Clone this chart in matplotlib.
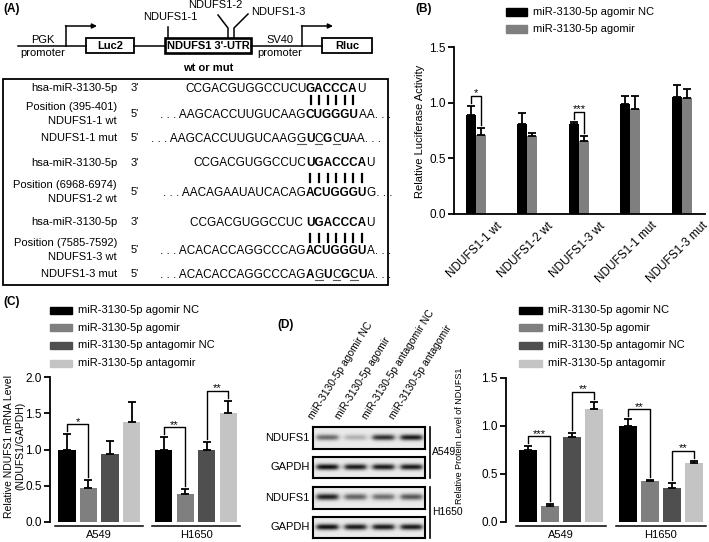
import numpy as np
import matplotlib
matplotlib.use("Agg")
import matplotlib.pyplot as plt
from matplotlib.patches import Rectangle
from matplotlib.transforms import ScaledTranslation, blended_transform_factory
from matplotlib import font_manager
from matplotlib.ft2font import FT2Font

plt.rcParams['font.family'] = ['Liberation Sans', 'DejaVu Sans']

W, H = 709, 542

# ---------------- data ----------------
luc_groups = ["NDUFS1-1 wt", "NDUFS1-2 wt", "NDUFS1-3 wt", "NDUFS1-1 mut", "NDUFS1-3 mut"]
luc_series = ["miR-3130-5p agomir NC", "miR-3130-5p agomir"]
luc_nc = [0.89, 0.81, 0.81, 0.99, 1.05]
luc_nc_err = [0.08, 0.10, 0.02, 0.07, 0.11]
luc_ago = [0.71, 0.70, 0.66, 0.94, 1.04]
luc_ago_err = [0.06, 0.03, 0.04, 0.12, 0.08]
luc_sig = [(0, "*"), (2, "***")]

cells = ["A549", "H1650"]
treatments = ["miR-3130-5p agomir NC", "miR-3130-5p agomir",
              "miR-3130-5p antagomir NC", "miR-3130-5p antagomir"]
colors4 = ["#000000", "#7f7f7f", "#4f4f4f", "#c4c4c4"]

mrna = [[1.00, 0.47, 0.94, 1.38], [1.00, 0.38, 1.00, 1.50]]
mrna_err = [[0.21, 0.11, 0.18, 0.28], [0.17, 0.08, 0.10, 0.17]]
mrna_sig = [(0, 0, 1, "*"), (1, 0, 1, "**"), (1, 2, 3, "**")]

protein = [[0.75, 0.17, 0.89, 1.18], [1.00, 0.43, 0.35, 0.61]]
protein_err = [[0.04, 0.015, 0.035, 0.07], [0.07, 0.01, 0.06, 0.03]]
protein_sig = [(0, 0, 1, "***"), (0, 2, 3, "**"), (1, 0, 1, "**"), (1, 2, 3, "**")]

blot_rows = ["NDUFS1", "GAPDH", "NDUFS1", "GAPDH"]
blot_bands = [[0.55, 0.25, 0.80, 0.90],
              [0.95, 0.90, 0.90, 0.90],
              [0.90, 0.60, 0.55, 0.65],
              [0.95, 0.90, 0.90, 0.90]]

# sequence rows: (left label lines, end, parts); parts = (text, style)
seq_rows = [
    (["hsa-miR-3130-5p"], "3'", [("CCGACGUGGCCUCU", ""), ("GACCCA", "b"), ("U", "")]),
    (["Position (395-401)", "NDUFS1-1 wt"], "5'",
     [(". . . AAGCACCUUGUCAAG", ""), ("CUGGGU", "b"), ("AA. . .", "")]),
    (["NDUFS1-1 mut"], "5'",
     [(". . . AAGCACCUUGUCAAG", ""), ("G", "u"), ("U", "b"), ("C", "u"), ("G", "b"),
      ("C", "u"), ("U", "b"), ("AA. . .", "")]),
    (["hsa-miR-3130-5p"], "3'", [("CCGACGUGGCCUC", ""), ("UGACCCA", "b"), ("U", "")]),
    (["Position (6968-6974)", "NDUFS1-2 wt"], "5'",
     [(". . . AACAGAAUAUCACAG", ""), ("ACUGGGU", "b"), ("G. . .", "")]),
    (["hsa-miR-3130-5p"], "3'", [("CCGACGUGGCCUC ", ""), ("UGACCCA", "b"), ("U", "")]),
    (["Position (7585-7592)", "NDUFS1-3 wt"], "5'",
     [(". . . ACACACCAGGCCCAG", ""), ("ACUGGGU", "b"), ("A. . .", "")]),
    (["NDUFS1-3 mut"], "5'",
     [(". . . ACACACCAGGCCCAG", ""), ("A", "b"), ("G", "u"), ("U", "b"), ("C", "u"),
      ("G", "b"), ("C", "u"), ("U", "b"), ("A. . .", "")]),
]
seq_y = [88, 114, 138, 163, 192, 222, 250, 274]
mir_rows = [0, 3, 5]
bar_y = [100, 178, 238]

SEQ_FS = 8.5


def _font(weight):
    path = font_manager.findfont(font_manager.FontProperties(family='Liberation Sans', weight=weight))
    f = FT2Font(path)
    f.set_size(SEQ_FS, 100)
    return f


FONTS = {False: _font('normal'), True: _font('bold')}


def adv(s, bold):
    f = FONTS[bold]
    return sum(f.load_char(ord(c)).linearHoriAdvance / 65536 for c in s)


def rect(l, t, r, b):
    return [l / W, 1 - b / H, (r - l) / W, (b - t) / H]


fig = plt.figure(figsize=(W / 100, H / 100), dpi=100)
ax0 = fig.add_axes([0, 0, 1, 1])
ax0.set_xlim(0, W)
ax0.set_ylim(H, 0)
ax0.axis('off')

# ---------------- (A) construct ----------------
ax0.text(3, 9, "(A)", fontsize=8.5, fontweight='bold', va='center')
lk = dict(color='k', lw=1.1)
ax0.plot([18, 86], [46, 46], **lk)
ax0.plot([134, 165], [46, 46], **lk)
ax0.plot([251, 322], [46, 46], **lk)
for x0, x1 in [(66, 97), (302, 333)]:
    ax0.plot([x0, x0], [46, 26], **lk)
    ax0.annotate("", xy=(x1, 26), xytext=(x0 - 0.5, 26),
                 arrowprops=dict(arrowstyle='-|>', color='k', lw=1.1, mutation_scale=7,
                                 shrinkA=0, shrinkB=0))
for (l, r, txt, lw) in [(86, 134, "Luc2", 1.3), (165, 251, "NDUFS1 3'-UTR", 1.9), (322, 372, "Rluc", 1.3)]:
    ax0.add_patch(Rectangle((l, 38), r - l, 15, fill=False, lw=lw, ec='k'))
    ax0.text((l + r) / 2, 46, txt, fontsize=8, fontweight='bold', ha='center', va='center')
ax0.text(43, 40, "PGK", fontsize=8, ha='center', va='center')
ax0.text(43, 53, "promoter", fontsize=8, ha='center', va='center')
ax0.text(280, 40, "SV40", fontsize=8, ha='center', va='center')
ax0.text(280, 53, "promoter", fontsize=8, ha='center', va='center')
ax0.text(208, 68, "wt or mut", fontsize=8, fontweight='bold', ha='center', va='center')
ax0.plot([168, 168], [38, 27], **lk)
ax0.text(170, 17, "NDUFS1-1", fontsize=8, ha='center', va='center')
ax0.plot([228, 228, 218], [38, 28, 15], **lk)
ax0.plot([234, 234, 248], [38, 28, 14], **lk)
ax0.text(215, 5, "NDUFS1-2", fontsize=8, ha='center', va='center')
ax0.text(278, 12, "NDUFS1-3", fontsize=8, ha='center', va='center')

# sequence box
ax0.add_patch(Rectangle((3, 79), 385, 206, fill=False, lw=1.3, ec='k'))
bold_start_x = 306
mir_centers = {}
for i, (labels, end, parts) in enumerate(seq_rows):
    y = seq_y[i]
    if len(labels) == 1:
        ax0.text(117, y, labels[0], fontsize=8, ha='right', va='center')
    else:
        ax0.text(117, y - 7, labels[0], fontsize=8, ha='right', va='center')
        ax0.text(117, y + 7, labels[1], fontsize=8, ha='right', va='center')
    ax0.text(131, y, end, fontsize=8, ha='left', va='center')
    # align the first bold stretch of every row at the same x
    pre = ""
    for txt, st in parts:
        if "b" in st:
            break
        pre += txt
    x = bold_start_x - adv(pre, False)
    centers = []
    for txt, st in parts:
        b = "b" in st
        ax0.text(x, y + 3.5, txt, fontsize=SEQ_FS, fontweight='bold' if b else 'normal',
                 ha='left', va='baseline')
        w = adv(txt, b)
        if "u" in st:
            ax0.plot([x + 0.5, x + w - 0.5], [y + 6, y + 6], color='0.35', lw=0.8)
        if b:
            xc = x
            for c in txt:
                cw = adv(c, True)
                centers.append(xc + cw / 2)
                xc += cw
        x += w
    mir_centers[i] = centers

for r, yb in zip(mir_rows, bar_y):
    for xc in mir_centers[r]:
        ax0.plot([xc, xc], [yb - 4, yb + 4], color='k', lw=1.6)


# ---------------- helpers ----------------
def style_axis(ax, ymax, step, bottom=True):
    ax.set_facecolor('none')
    for s in ['top', 'right']:
        ax.spines[s].set_visible(False)
    ax.spines['left'].set_linewidth(1.3)
    ax.spines['bottom'].set_linewidth(1.3)
    ax.spines['bottom'].set_visible(bottom)
    ax.set_ylim(0, ymax)
    ax.set_yticks(np.arange(0, ymax + 1e-9, step))
    ax.set_yticklabels([f"{v:.1f}" for v in np.arange(0, ymax + 1e-9, step)])
    ax.tick_params(axis='y', length=4, width=1.3, labelsize=8.5, pad=2)
    ax.tick_params(axis='x', length=0, labelbottom=False)


def draw_bar(ax, x, v, e, w, c):
    ax.bar(x, v, w, color=c, zorder=2)
    ax.errorbar(x, v, yerr=[[0], [e]], fmt='none', ecolor='k', elinewidth=1.3,
                capsize=3, capthick=1.3, zorder=3, clip_on=False)


def bracket(ax, x1, x2, t1, t2, label, ppu):
    pad, gap = 10 / ppu, 3 / ppu
    yh = max(t1, t2) + pad
    ax.plot([x1, x1, x2, x2], [t1 + gap, yh, yh, t2 + gap], color='k', lw=1, clip_on=False)
    ax.text((x1 + x2) / 2, yh - 2.5 / ppu, label, ha='center', va='bottom', fontsize=8, clip_on=False)


# ---------------- (B) luciferase ----------------
ax0.text(415, 9, "(B)", fontsize=8.5, fontweight='bold', va='center')
for j, (lab, c) in enumerate(zip(luc_series, colors4[:2])):
    yc = 12 + 17 * j
    ax0.add_patch(Rectangle((506, yc - 4), 21, 8, color=c))
    ax0.text(533, yc, lab, fontsize=8, va='center')

axB = fig.add_axes(rect(454, 47, 705, 214))
style_axis(axB, 1.5, 0.5)
ppuB = 167 / 1.5
xb = np.arange(len(luc_groups))
dx = 0.194
axB.set_xlim(-0.427, 4.45)
for g in range(len(luc_groups)):
    draw_bar(axB, xb[g] - dx / 2, luc_nc[g], luc_nc_err[g], dx, colors4[0])
    draw_bar(axB, xb[g] + dx / 2, luc_ago[g], luc_ago_err[g], dx, colors4[1])
for g, lab in luc_sig:
    bracket(axB, xb[g] - dx / 2, xb[g] + dx / 2, luc_nc[g] + luc_nc_err[g],
            luc_ago[g] + luc_ago_err[g], lab, ppuB)
off = ScaledTranslation(0.20, -0.06, fig.dpi_scale_trans)
for g, lab in enumerate(luc_groups):
    axB.text(xb[g], 0, lab, transform=axB.transData + off, rotation=45, rotation_mode='anchor',
             ha='right', va='top', fontsize=8.5)
ax0.text(420, 131, "Relative Luciferase Activity", rotation=90, fontsize=8, ha='center', va='center')


# ---------------- grouped panels (C) and (D) ----------------
def group_panel(ax, vals, errs, sig, ymax, step, gshift, bw, ppu, hpx):
    style_axis(ax, ymax, step, bottom=False)
    trans = blended_transform_factory(ax.transData, ax.transAxes)
    for g in range(len(cells)):
        xs = g * gshift + np.arange(len(treatments))
        for i in range(len(treatments)):
            draw_bar(ax, xs[i], vals[g][i], errs[g][i], bw, colors4[i])
        for gg, a, b, lab in sig:
            if gg == g:
                bracket(ax, xs[a], xs[b], vals[g][a] + errs[g][a], vals[g][b] + errs[g][b], lab, ppu)
        cx = xs.mean()
        ax.plot([cx - 2.05, cx + 2.05], [-4 / hpx, -4 / hpx], transform=trans, color='k',
                lw=1.1, clip_on=False)
        ax.text(cx, -13 / hpx, cells[g], transform=trans, ha='center', va='center', fontsize=8)


ax0.text(3, 302, "(C)", fontsize=8.5, fontweight='bold', va='center')
for j, (lab, c) in enumerate(zip(treatments, colors4)):
    yc = 310 + 17.7 * j
    ax0.add_patch(Rectangle((50, yc - 3.5), 22, 7, color=c))
    ax0.text(78, yc, lab, fontsize=8, va='center')
axC = fig.add_axes(rect(50, 377, 245.5, 522))
axC.set_xlim(-0.79, 8.3)
group_panel(axC, mrna, mrna_err, mrna_sig, 2.0, 0.5, 4.5, 0.81, 145 / 2.0, 145)
ax0.text(15, 446, "Relative NDUFS1 mRNA Level\n(NDUFS1/GAPDH)", rotation=90, fontsize=7.5,
         ha='center', va='center', multialignment='center', linespacing=1.15)

ax0.text(277, 325, "(D)", fontsize=8.5, fontweight='bold', va='center')
for j, (lab, c) in enumerate(zip(treatments, colors4)):
    yc = 310 + 17.7 * j
    ax0.add_patch(Rectangle((519, yc - 3.5), 23, 7, color=c))
    ax0.text(548, yc, lab, fontsize=8, va='center')
axD = fig.add_axes(rect(506, 378, 706, 522))
axD.set_xlim(-1.0, 8.1)
group_panel(axD, protein, protein_err, protein_sig, 1.5, 0.5, 4.55, 0.82, 144 / 1.5, 144)
ax0.text(459, 436, "Relative Protein Level of NDUFS1", rotation=90, fontsize=6.5,
         ha='center', va='center')

# ---------------- western blot ----------------
blot_y = [(427, 449), (457, 478), (487, 509), (517, 538)]
bx0, bx1 = 313, 425
nx = bx1 - bx0
lane_w = nx / 4
for r, (t, b) in enumerate(blot_y):
    axb = fig.add_axes(rect(bx0, t, bx1, b))
    ny = b - t
    yy = np.arange(ny)[:, None]
    xx = np.arange(nx)[None, :]
    img = np.full((ny, nx), 0.92)
    for i, inten in enumerate(blot_bands[r]):
        cx = (i + 0.5) * lane_w
        hprof = 1 / (1 + np.exp((np.abs(xx - cx) - lane_w * 0.38) / 1.5))
        vprof = np.exp(-((yy - ny * 0.45) / 3.0) ** 2)
        img -= 0.9 * inten * hprof * vprof
    axb.imshow(np.clip(img, 0, 1), cmap='gray', vmin=0, vmax=1, aspect='auto',
               interpolation='bilinear')
    axb.set_xticks([])
    axb.set_yticks([])
    for s in axb.spines.values():
        s.set_linewidth(1.5)
    ax0.text(310, (t + b) / 2, blot_rows[r], fontsize=8, ha='right', va='center')

for i, lab in enumerate(treatments):
    ax0.text(315 + 27 * i, 421, lab, rotation=58, rotation_mode='anchor', ha='left',
             va='bottom', fontsize=7.5)
ax0.plot([430, 430], [427, 478], color='k', lw=1.2)
ax0.plot([430, 430], [487, 538], color='k', lw=1.2)
ax0.text(432, 452, "A549", fontsize=7.5, va='center')
ax0.text(432, 512, "H1650", fontsize=7.5, va='center')

fig.savefig("out.png", dpi=100)
